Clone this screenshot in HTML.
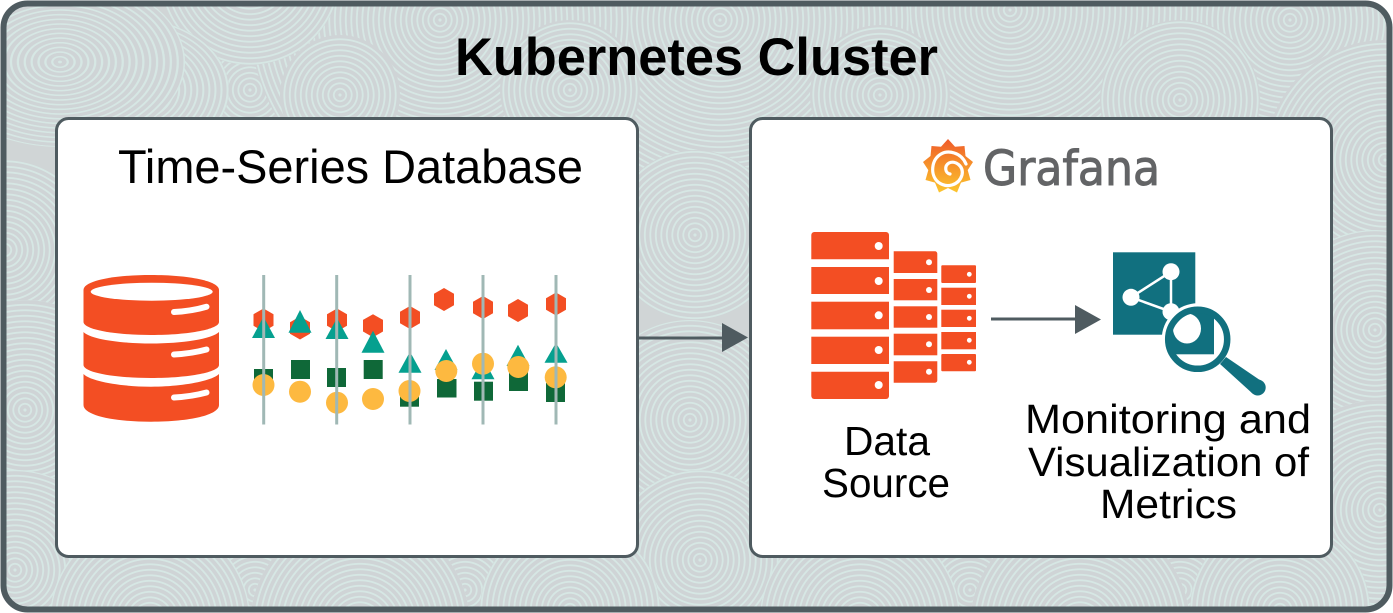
<!DOCTYPE html>
<html><head><meta charset="utf-8"><style>
html,body{margin:0;padding:0;background:#fff;width:1393px;height:613px;overflow:hidden}
svg{display:block}
text{font-family:"Liberation Sans",sans-serif;fill:#000}
</style></head><body>
<svg xmlns="http://www.w3.org/2000/svg" width="1393" height="613" viewBox="0 0 1393 613">
<defs>
<radialGradient id="a" gradientUnits="userSpaceOnUse" cx="0" cy="0" fx="0" fy="0" r="5.5" spreadMethod="repeat"><stop offset="0" stop-color="#d6e7e4"/><stop offset=".24" stop-color="#d6e7e4"/><stop offset=".34" stop-color="#cfd4d6"/><stop offset=".92" stop-color="#cfd4d6"/><stop offset="1" stop-color="#d6e7e4"/></radialGradient>
<linearGradient id="g" x1="0" y1="0" x2="0" y2="1"><stop offset="0" stop-color="#ef5a2a"/><stop offset=".5" stop-color="#f6932a"/><stop offset="1" stop-color="#fcc52e"/></linearGradient>
<clipPath id="o"><rect x="3.5" y="3.5" width="1386" height="606" rx="24"/></clipPath>
<clipPath id="lens"><circle cx="1197.7" cy="339.3" r="27"/></clipPath>
<polygon id="h" points="0,-11.5 10,-5.8 10,5.8 0,11.5 -10,5.8 -10,-5.8" fill="#f34e23"/>
</defs>

<rect width="1393" height="613" fill="#fff"/>
<g clip-path="url(#o)">
<rect x="0" y="0" width="1393" height="613" fill="#d0d5d6"/>
<g fill="url(#a)">
<circle transform="translate(250 90)" r="50"/>
<circle transform="translate(450 95)" r="50"/>
<circle transform="translate(740 100)" r="55"/>
<circle transform="translate(1010 100)" r="50"/>
<circle transform="translate(1290 95)" r="60"/>
<circle transform="translate(1290 20)" r="170"/>
<circle transform="translate(1010 10)" r="190"/>
<circle transform="translate(720 20)" r="190"/>
<circle transform="translate(440 20)" r="190"/>
<circle transform="translate(1385 160)" r="120"/>
<circle transform="translate(1180 100)" r="80"/>
<circle transform="translate(880 95)" r="70"/>
<circle transform="translate(570 90)" r="70"/>
<circle transform="translate(340 95)" r="60"/>
<circle transform="translate(250 -25)" r="90"/>
<circle transform="translate(130 90) scale(1.1 .8)" r="90"/>
<circle transform="translate(60 62) scale(1.25 .85)" r="100"/>
<circle transform="translate(5 250)" r="90"/>
<circle transform="translate(25 410)" r="110"/>
<path transform="translate(255 590)" d="M-55.400 23A60 60 0 1 1 55.400 23Z"/>
<path transform="translate(465 590)" d="M-55.400 23A60 60 0 1 1 55.400 23Z"/>
<path transform="translate(760 590)" d="M-55.400 23A60 60 0 1 1 55.400 23Z"/>
<path transform="translate(970 590)" d="M-55.400 23A60 60 0 1 1 55.400 23Z"/>
<path transform="translate(1180 590)" d="M-55.400 23A60 60 0 1 1 55.400 23Z"/>
<path transform="translate(15 570)" d="M-90.300 43A100 100 0 1 1 90.300 43Z"/>
<circle transform="translate(695 235)" r="85"/>
<circle transform="translate(690 420)" r="100"/>
<path transform="translate(700 560)" d="M-72.700 53A90 90 0 1 1 72.700 53Z"/>
<circle transform="translate(1375 330)" r="100"/>
<path transform="translate(1380 510)" d="M-38.600 103A110 110 0 1 1 38.600 103Z"/>
<path transform="translate(150 620)" d="M-99.800 -7A100 100 0 0 1 99.800 -7Z"/>
<path transform="translate(360 625)" d="M-109.300 -12A110 110 0 0 1 109.300 -12Z"/>
<path transform="translate(570 610)" d="M-89.950 3A90 90 0 1 1 89.950 3Z"/>
<path transform="translate(860 620)" d="M-99.800 -7A100 100 0 0 1 99.800 -7Z"/>
<path transform="translate(1080 625)" d="M-109.300 -12A110 110 0 0 1 109.300 -12Z"/>
<path transform="translate(1280 610)" d="M-89.950 3A90 90 0 1 1 89.950 3Z"/>
</g>
</g>
<rect x="3.5" y="3.5" width="1386" height="606" rx="24" fill="none" stroke="#4f5b60" stroke-width="6"/>

<rect x="56.5" y="118.5" width="581" height="438" rx="12" fill="#fff" stroke="#4f5b60" stroke-width="3"/>
<rect x="750.5" y="118.5" width="581" height="438" rx="12" fill="#fff" stroke="#4f5b60" stroke-width="3"/>

<text x="455" y="75" font-size="53" font-weight="bold" textLength="483" lengthAdjust="spacingAndGlyphs">Kubernetes Cluster</text>
<text x="118" y="183" font-size="47" textLength="465" lengthAdjust="spacingAndGlyphs">Time-Series Database</text>

<!-- database -->
<g fill="#f34e23">
<path d="M83.5 290C83.5 281 113 275 151 275S219 281 219 290V322C219 329 190 335 151 335S83.5 329 83.5 322Z"/>
<path d="M83.5 332C90 339 120 343.5 151 343.5S212 339 219 332V365C219 372 190 378 151 378S83.5 372 83.5 365Z"/>
<path d="M83.5 374C90 381 120 386.7 151 386.7S212 381 219 374V405C219 415 190 421.7 151 421.7S83.5 415 83.5 405Z"/>
</g>
<ellipse cx="151.7" cy="291.7" rx="61" ry="9" fill="#fff"/>
<g fill="none" stroke="#fff" stroke-width="6" stroke-linecap="round">
<path d="M174 312Q192 311 206.500 306.700"/>
<path d="M174 354.500Q192 353.500 206.500 349.500"/>
<path d="M174 397.500Q192 396.500 206.500 392.500"/>
</g>

<!-- chart -->
<use href="#h" x="263.500" y="320"/><use href="#h" x="300" y="328"/><use href="#h" x="337" y="320"/><use href="#h" x="373" y="325.700"/><use href="#h" x="410" y="317.500"/><use href="#h" x="444" y="299.500"/><use href="#h" x="483" y="307.500"/><use href="#h" x="518" y="310.500"/><use href="#h" x="556" y="304"/>
<g fill="#05a08f">
<polygon points="263.500,316.700 252,338 275,338"/>
<polygon points="300,310 288.500,332.700 311.500,332.700"/>
<polygon points="337,318 325.500,339 348.500,339"/>
<polygon points="373,330.700 361.500,352.700 384.500,352.700"/>
<polygon points="410,351.700 398.500,372.700 421.500,372.700"/>
<polygon points="446,349 434.500,370 457.500,370"/>
<polygon points="483,358 471.500,379.300 494.500,379.300"/>
<polygon points="518,344.700 506.500,366 529.500,366"/>
<polygon points="556,342.700 544.500,362.700 567.500,362.700"/>
</g>
<g fill="#0f6838">
<rect x="254" y="369" width="19" height="19"/><rect x="291" y="360" width="19" height="19"/><rect x="327" y="368" width="19" height="19"/><rect x="363.700" y="360" width="19" height="19"/><rect x="400" y="387.700" width="19" height="19"/><rect x="437" y="379" width="19.500" height="18.500"/><rect x="474" y="381.700" width="19" height="19"/><rect x="509" y="372" width="19" height="19"/><rect x="546" y="383" width="19" height="19"/>
</g>
<g fill="#fdb940">
<circle cx="263.500" cy="385" r="11"/><circle cx="300" cy="391.700" r="11"/><circle cx="337" cy="402.700" r="11"/><circle cx="373" cy="399" r="11"/><circle cx="409.500" cy="391" r="11"/><circle cx="446.300" cy="371" r="11"/><circle cx="483" cy="363.700" r="11"/><circle cx="518.300" cy="367" r="11"/><circle cx="555.700" cy="377.300" r="11"/>
</g>
<g fill="#a0b8b5">
<rect x="262.200" y="275" width="3" height="149.500"/><rect x="335.200" y="275" width="3" height="149.500"/><rect x="408.500" y="275" width="3" height="149.500"/><rect x="481.500" y="275" width="3" height="149.500"/><rect x="554.500" y="275" width="3" height="149.500"/>
</g>

<!-- arrows -->
<rect x="639" y="336.500" width="84" height="3" fill="#4f5b60"/>
<polygon points="722,323 748,337.500 722,352" fill="#4f5b60"/>
<rect x="991" y="317.500" width="85" height="3" fill="#4f5b60"/>
<polygon points="1075,305 1101,319.500 1075,334" fill="#4f5b60"/>

<!-- grafana -->
<polygon fill="url(#g)" points="948,139 955,146.800 964.500,146 965.500,156 973,162 967.700,170.100 970.500,180 961,182.600 957,192.500 948,188 939,192.500 935,182.600 925.500,180 928.300,170.100 923,162 930.500,156 931.500,146 941,146.800"/>
<path d="M966 164C961 152 948 150 941 154C931 160 930 175 938 182C947 189 959 185 962 175C964 166 955 160 949 163C944 166 945 173 950 174" fill="none" stroke="#fff" stroke-width="3.200" stroke-linecap="round"/>
<text x="983" y="185" font-size="48" textLength="177" lengthAdjust="spacingAndGlyphs" style="font-family:'DejaVu Sans',sans-serif;fill:#636466;stroke:#636466;stroke-width:1">Grafana</text>

<!-- servers -->
<g fill="#f34e23">
<path d="M811.300 235a3 3 0 0 1 3-3H886a3 3 0 0 1 3 3V259.300H811.300Z"/>
<rect x="811.300" y="267" width="77.700" height="27"/>
<rect x="811.300" y="301.700" width="77.700" height="27.600"/>
<rect x="811.300" y="336.700" width="77.700" height="27.300"/>
<path d="M811.300 371.700H889V396a3 3 0 0 1-3 3H814.300a3 3 0 0 1-3-3Z"/>
<path d="M893.700 251.300H935a2.300 2.300 0 0 1 2.300 2.300V273H893.700Z"/>
<rect x="893.700" y="279" width="43.600" height="21.300"/>
<rect x="893.700" y="306.300" width="43.600" height="21.400"/>
<rect x="893.700" y="333.700" width="43.600" height="21.600"/>
<path d="M893.700 361.300H937.300V380.400a2.300 2.300 0 0 1-2.300 2.300H893.700Z"/>
<rect x="941.300" y="265.300" width="34.700" height="17.700" rx="1"/>
<rect x="941.300" y="287.700" width="34.700" height="17.300"/>
<rect x="941.300" y="309.700" width="34.700" height="17.300"/>
<rect x="941.300" y="332" width="34.700" height="17.300"/>
<rect x="941.300" y="354" width="34.700" height="17.300" rx="1"/>
</g>
<g fill="#fff">
<circle cx="878.700" cy="246" r="4"/><circle cx="878.700" cy="281" r="4"/><circle cx="878.700" cy="315.300" r="4"/><circle cx="878.700" cy="350" r="4"/><circle cx="878.700" cy="385" r="4"/>
<circle cx="929" cy="262.300" r="3"/><circle cx="929" cy="290" r="3"/><circle cx="929" cy="317" r="3"/><circle cx="929" cy="344.300" r="3"/><circle cx="929" cy="371.700" r="3"/>
<circle cx="969.300" cy="274.300" r="2.400"/><circle cx="969.300" cy="296.300" r="2.400"/><circle cx="969.300" cy="318.300" r="2.400"/><circle cx="969.300" cy="340.300" r="2.400"/><circle cx="969.300" cy="362.300" r="2.400"/>
</g>

<!-- monitoring icon -->
<rect x="1113" y="252.300" width="82.300" height="82.400" fill="#11707f"/>
<g stroke="#fff" stroke-width="2.500" fill="none"><path d="M1171 271.700L1131 297.300L1171 311.700Z"/></g>
<g fill="#fff"><circle cx="1171" cy="271.700" r="8.500"/><circle cx="1131" cy="297.300" r="8.500"/><circle cx="1171" cy="311.700" r="8.500"/></g>
<circle cx="1197.700" cy="339.300" r="36" fill="#fff"/>
<g clip-path="url(#lens)">
<rect x="1165" y="305" width="49" height="49.300" fill="#11707f"/>
<ellipse cx="1187" cy="328.500" rx="14" ry="15" fill="#fff"/>
<polygon points="1165,305 1195,305 1165,325" fill="#fff"/>
</g>
<circle cx="1197.700" cy="339.300" r="29.500" fill="none" stroke="#11707f" stroke-width="6.500"/>
<polygon points="1226,357 1262,381.500 1252.500,393.500 1220,364" fill="#11707f"/>
<circle cx="1257.700" cy="387.500" r="8" fill="#11707f"/>

<!-- labels -->
<text x="844" y="455" font-size="41" textLength="86" lengthAdjust="spacingAndGlyphs">Data</text>
<text x="822" y="497" font-size="41" textLength="128" lengthAdjust="spacingAndGlyphs">Source</text>
<text x="1025" y="433" font-size="41" textLength="286" lengthAdjust="spacingAndGlyphs">Monitoring and</text>
<text x="1028" y="476" font-size="41" textLength="281" lengthAdjust="spacingAndGlyphs">Visualization of</text>
<text x="1100" y="518" font-size="41" textLength="137" lengthAdjust="spacingAndGlyphs">Metrics</text>
</svg>
</body></html>
